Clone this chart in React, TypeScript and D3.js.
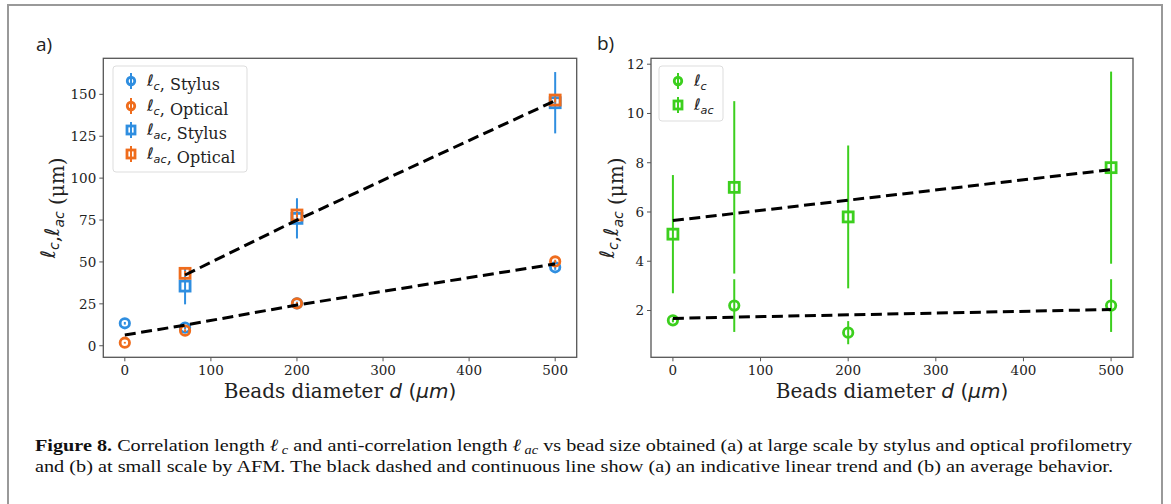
import React from "react";
import * as d3 from "d3";

// ---------- data ----------
const beadSizes = [0, 70, 200, 500];
const lacSizes = [70, 200, 500];

// panel a
const lcStylus = [13.4, 10.8, 25.3, 46.8];
const lcStylusErr = [0.8, 1.0, 1.0, 1.5];
const lcOptical = [1.8, 9.0, 25.3, 50.3];
const lcOpticalErr = [0.5, 0.8, 0.8, 1.0];
const lacStylus = [35.6, 76.0, 145.0];
const lacStylusErr = [10.9, 12.0, 18.3];
const lacOptical = [43.2, 78.0, 146.6];
const lacOpticalErr = [1.5, 1.5, 1.5];
const trendLcX = [0, 70, 200, 500];
const trendLcY = [6.4, 12.3, 24.3, 48.8];
const trendLacX = [70, 200, 500];
const trendLacY = [42.2, 75.0, 146.2];
const aYTicks = [0, 25, 50, 75, 100, 125, 150];

// panel b
const lcAfm = [1.6, 2.2, 1.1, 2.2];
const lcAfmErr = [0.08, 1.07, 0.47, 1.07];
const lacAfm = [5.1, 7.0, 5.8, 7.8];
const lacAfmErr = [2.4, 3.5, 2.9, 3.9];
const trendBX = [0, 500];
const trendBLc = [1.68, 2.04];
const trendBLac = [5.65, 7.72];
const bYTicks = [2, 4, 6, 8, 10, 12];

const xTicks = [0, 100, 200, 300, 400, 500];

const BLUE = "#2f8ee0";
const ORANGE = "#ef6c1c";
const GREEN = "#3ccf1e";
const SPINE = "#555";
const TICKFONT = "DejaVu Serif";
const MATH = "DejaVu Sans";

type Box = { x0: number; x1: number; y0: number; y1: number };
const boxA: Box = { x0: 103.3, x1: 576.7, y0: 58.3, y1: 357.3 };
const boxB: Box = { x0: 651, x1: 1133, y0: 58.3, y1: 357.3 };

function Marker({ shape, x, y, color, size = 1 }: any) {
  if (shape === "o")
    return <circle cx={x} cy={y} r={4.7 * size} fill="none" stroke={color} strokeWidth={2.8} />;
  const s = 10 * size;
  return <rect x={x - s / 2} y={y - s / 2} width={s} height={s} fill="none" stroke={color} strokeWidth={2.8} />;
}

function Series({ xs, ys, es, xS, yS, color, shape, lw = 2 }: any) {
  return (
    <g>
      {xs.map((xv: number, i: number) => (
        <line key={"e" + i} x1={xS(xv)} x2={xS(xv)} y1={yS(ys[i] - es[i])} y2={yS(ys[i] + es[i])} stroke={color} strokeWidth={lw} />
      ))}
      {xs.map((xv: number, i: number) => (
        <Marker key={"m" + i} shape={shape} x={xS(xv)} y={yS(ys[i])} color={color} />
      ))}
    </g>
  );
}

function Trend({ xs, ys, xS, yS }: any) {
  const gen = d3.line<number>().x((d, i) => xS(xs[i])).y((d) => yS(d));
  return <path d={gen(ys) || ""} fill="none" stroke="#000" strokeWidth={3} strokeDasharray="11,5.5" />;
}

function Ell({ sub, size }: { sub: string; size: number }) {
  return (
    <>
      <tspan fontFamily={MATH} fontStyle="italic">ℓ</tspan>
      <tspan fontFamily={MATH} fontStyle="italic" fontSize={size * 0.7} dy={size * 0.22}>{sub}</tspan>
      <tspan dy={-size * 0.22}>{""}</tspan>
    </>
  );
}

function Axes({ box, yDomain, yTicks, children, yLabelX }: any) {
  const xS = d3.scaleLinear().domain([-25, 525]).range([box.x0, box.x1]);
  const yS = d3.scaleLinear().domain(yDomain).range([box.y1, box.y0]);
  return (
    <g>
      {children(xS, yS)}
      <rect x={box.x0} y={box.y0} width={box.x1 - box.x0} height={box.y1 - box.y0} fill="none" stroke={SPINE} strokeWidth={1.3} />
      {xTicks.map((t) => (
        <g key={"x" + t}>
          <line x1={xS(t)} x2={xS(t)} y1={box.y1} y2={box.y1 + 4} stroke={SPINE} />
          <text x={xS(t)} y={box.y1 + 18} textAnchor="middle" fontFamily={TICKFONT} fontSize={13.5} fill="#222">{t}</text>
        </g>
      ))}
      {yTicks.map((t: number) => (
        <g key={"y" + t}>
          <line x1={box.x0 - 4} x2={box.x0} y1={yS(t)} y2={yS(t)} stroke={SPINE} />
          <text x={box.x0 - 7} y={yS(t) + 4.8} textAnchor="end" fontFamily={TICKFONT} fontSize={13.5} fill="#222">{t}</text>
        </g>
      ))}
      <text x={(box.x0 + box.x1) / 2} y={box.y1 + 41} textAnchor="middle" fontFamily={TICKFONT} fontSize={20} fill="#222">
        Beads diameter <tspan fontFamily={MATH} fontStyle="italic">d</tspan>
        <tspan fontFamily={MATH}> (</tspan>
        <tspan fontFamily={MATH} fontStyle="italic">μm</tspan>
        <tspan fontFamily={MATH}>)</tspan>
      </text>
      <text transform={`translate(${yLabelX},${(box.y0 + box.y1) / 2}) rotate(-90)`} textAnchor="middle" fontFamily={TICKFONT} fontSize={20} fill="#222">
        <Ell sub="c" size={20} />
        <tspan>,</tspan>
        <Ell sub="ac" size={20} />
        <tspan> (μm)</tspan>
      </text>
    </g>
  );
}

function LegendItem({ x, y, shape, color, sub, label }: any) {
  return (
    <g>
      <line x1={x} x2={x} y1={y - 8} y2={y + 8} stroke={color} strokeWidth={2} />
      <Marker shape={shape} x={x} y={y} color={color} size={0.8} />
      <text x={x + 16} y={y + 5} fontFamily={TICKFONT} fontSize={16} fill="#222">
        <Ell sub={sub} size={16} />
        {label ? <tspan>{label}</tspan> : null}
      </text>
    </g>
  );
}

export default function App() {
  return (
    <svg width={1171} height={504} style={{ position: "absolute", left: 0, top: 0, background: "#fff" }}>
      <rect x={0} y={0} width={1171} height={504} fill="#fff" />
      <rect x={8} y={5} width={1154} height={520} fill="none" stroke="#999" strokeWidth={2} />

      <text x={36} y={51} fontFamily="Open Sans" fontSize={19} fill="#222">a)</text>
      <text x={597} y={50} fontFamily="Open Sans" fontSize={19} fill="#222">b)</text>

      <Axes box={boxA} yDomain={[-6.9, 171.5]} yTicks={aYTicks} yLabelX={55}>
        {(xS: any, yS: any) => (
          <g>
            <Series xs={beadSizes} ys={lcStylus} es={lcStylusErr} xS={xS} yS={yS} color={BLUE} shape="o" />
            <Series xs={beadSizes} ys={lcOptical} es={lcOpticalErr} xS={xS} yS={yS} color={ORANGE} shape="o" />
            <Series xs={lacSizes} ys={lacStylus} es={lacStylusErr} xS={xS} yS={yS} color={BLUE} shape="s" />
            <Series xs={lacSizes} ys={lacOptical} es={lacOpticalErr} xS={xS} yS={yS} color={ORANGE} shape="s" />
            <Trend xs={trendLcX} ys={trendLcY} xS={xS} yS={yS} />
            <Trend xs={trendLacX} ys={trendLacY} xS={xS} yS={yS} />
          </g>
        )}
      </Axes>

      <Axes box={boxB} yDomain={[0.1, 12.24]} yTicks={bYTicks} yLabelX={614}>
        {(xS: any, yS: any) => (
          <g>
            <Series xs={beadSizes} ys={lcAfm} es={lcAfmErr} xS={xS} yS={yS} color={GREEN} shape="o" />
            <Series xs={beadSizes} ys={lacAfm} es={lacAfmErr} xS={xS} yS={yS} color={GREEN} shape="s" />
            <Trend xs={trendBX} ys={trendBLc} xS={xS} yS={yS} />
            <Trend xs={trendBX} ys={trendBLac} xS={xS} yS={yS} />
          </g>
        )}
      </Axes>

      {/* legend a */}
      <rect x={113} y={66} width={134} height={106} rx={3} fill="#fff" fillOpacity={0.85} stroke="#ddd" />
      <LegendItem x={131} y={81} shape="o" color={BLUE} sub="c" label=", Stylus" />
      <LegendItem x={131} y={106} shape="o" color={ORANGE} sub="c" label=", Optical" />
      <LegendItem x={131} y={130} shape="s" color={BLUE} sub="ac" label=", Stylus" />
      <LegendItem x={131} y={154} shape="s" color={ORANGE} sub="ac" label=", Optical" />

      {/* legend b */}
      <rect x={659} y={66} width={64} height={55} rx={3} fill="#fff" fillOpacity={0.85} stroke="#ddd" />
      <LegendItem x={678} y={81} shape="o" color={GREEN} sub="c" label="" />
      <LegendItem x={678} y={105} shape="s" color={GREEN} sub="ac" label="" />

      {/* caption */}
      <text x={35} y={451} fontFamily="Liberation Serif" fontSize={17} fill="#111" textLength={1097} lengthAdjust="spacingAndGlyphs">
        <tspan fontWeight="bold">Figure 8.</tspan> Correlation length <tspan fontStyle="italic">ℓ</tspan>
        <tspan fontStyle="italic" fontSize={12} dy={3}> c</tspan>
        <tspan dy={-3}> and anti-correlation length </tspan>
        <tspan fontStyle="italic">ℓ</tspan>
        <tspan fontStyle="italic" fontSize={12} dy={3}> ac</tspan>
        <tspan dy={-3}> vs bead size obtained (a) at large scale by stylus and optical profilometry</tspan>
      </text>
      <text x={35} y={472} fontFamily="Liberation Serif" fontSize={17} fill="#111" textLength={1078} lengthAdjust="spacingAndGlyphs">
        and (b) at small scale by AFM. The black dashed and continuous line show (a) an indicative linear trend and (b) an average behavior.
      </text>
    </svg>
  );
}
